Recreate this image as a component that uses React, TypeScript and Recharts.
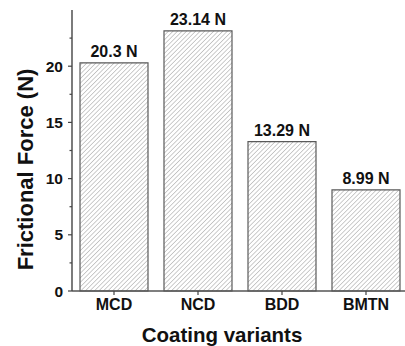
import React from 'react';
import { BarChart, Bar, XAxis, YAxis, LabelList, Label } from 'recharts';

const categories = ['MCD', 'NCD', 'BDD', 'BMTN'];
const frictionValues = [20.3, 23.14, 13.29, 8.99];
const yTicks = [0, 2.5, 5, 7.5, 10, 12.5, 15, 17.5, 20, 22.5];
const minorXTicks = [1, 2, 3];

const data = categories.map((name, i) => ({ name, force: frictionValues[i] }));

const FONT = '"Liberation Sans", Arial, Helvetica, sans-serif';
const TICK_SIZE = 4;
const TICK_MARGIN = 5;

// y ticks: labelled major every 5, short minor tick between
const YTick = (props: any) => {
  const { x, y, payload } = props;
  const axisX = x + TICK_SIZE + TICK_MARGIN;
  const major = payload.value % 5 === 0;
  return (
    <g>
      <line x1={axisX} x2={axisX - (major ? 4 : 2.5)} y1={y} y2={y} stroke="#444" strokeWidth={1.2} />
      {major && (
        <text x={x} y={y} dy={5.5} textAnchor="end" fontFamily={FONT} fontWeight="bold" fontSize={15.5} fill="#111">
          {payload.value}
        </text>
      )}
    </g>
  );
};

const App: React.FC = () => {
  return (
    <div style={{ position: 'absolute', left: 0, top: 0, background: '#fff' }}>
      <BarChart
        width={405}
        height={346}
        data={data}
        margin={{ top: 10, right: -3, left: 0, bottom: 0 }}
        barSize={68}
      >
        <defs>
          <pattern id="hatch" width={3.2} height={3.2} patternUnits="userSpaceOnUse" patternTransform="rotate(45)">
            <rect width={3.2} height={3.2} fill="#fff" />
            <line x1={0} y1={0} x2={0} y2={3.2} stroke="#8f8f8f" strokeWidth={0.9} />
          </pattern>
        </defs>
        <XAxis
          xAxisId="top"
          orientation="top"
          dataKey="name"
          height={0}
          tick={false}
          tickLine={false}
          axisLine={{ stroke: '#8c8c8c', strokeWidth: 1.6 }}
        />
        <XAxis
          xAxisId="minor"
          type="number"
          domain={[0, 4]}
          ticks={minorXTicks}
          height={0}
          tick={false}
          tickSize={2.5}
          axisLine={false}
          tickLine={{ stroke: '#555', strokeWidth: 1.2 }}
        />
        <XAxis
          dataKey="name"
          height={55}
          tickSize={4}
          tickMargin={4}
          axisLine={{ stroke: '#555', strokeWidth: 1.4 }}
          tickLine={{ stroke: '#444', strokeWidth: 1.2 }}
          tick={{ fontFamily: FONT, fontWeight: 'bold', fontSize: 16, fill: '#111' }}
        >
          <Label
            content={(p: any) => (
              <text
                x={p.viewBox.x + p.viewBox.width / 2 - 18}
                y={p.viewBox.y + p.viewBox.height - 4}
                textAnchor="middle"
                fontFamily={FONT}
                fontWeight="bold"
                fontSize={20.5}
                fill="#111"
              >
                Coating variants
              </text>
            )}
          />
        </XAxis>
        <YAxis
          width={72}
          domain={[0, 25]}
          ticks={yTicks}
          interval={0}
          tickSize={TICK_SIZE}
          tickMargin={TICK_MARGIN}
          tickLine={false}
          axisLine={{ stroke: '#444', strokeWidth: 1.4 }}
          tick={<YTick />}
        >
          <Label
            content={(p: any) => {
              const cx = p.viewBox.x + 25;
              const cy = p.viewBox.y + p.viewBox.height / 2 + 19;
              return (
                <text
                  x={cx}
                  y={cy}
                  transform={`rotate(-90, ${cx}, ${cy})`}
                  textAnchor="middle"
                  dominantBaseline="central"
                  fontFamily={FONT}
                  fontWeight="bold"
                  fontSize={22}
                  fill="#111"
                >
                  Frictional Force (N)
                </text>
              );
            }}
          />
        </YAxis>
        <Bar dataKey="force" fill="url(#hatch)" stroke="#5a5a5a" strokeWidth={1.2} isAnimationActive={false}>
          <LabelList
            dataKey="force"
            position="top"
            offset={6}
            formatter={(v: number) => `${v} N`}
            style={{ fontFamily: FONT, fontWeight: 'bold', fontSize: 16, fill: '#111' }}
          />
        </Bar>
      </BarChart>
    </div>
  );
};

export default App;
